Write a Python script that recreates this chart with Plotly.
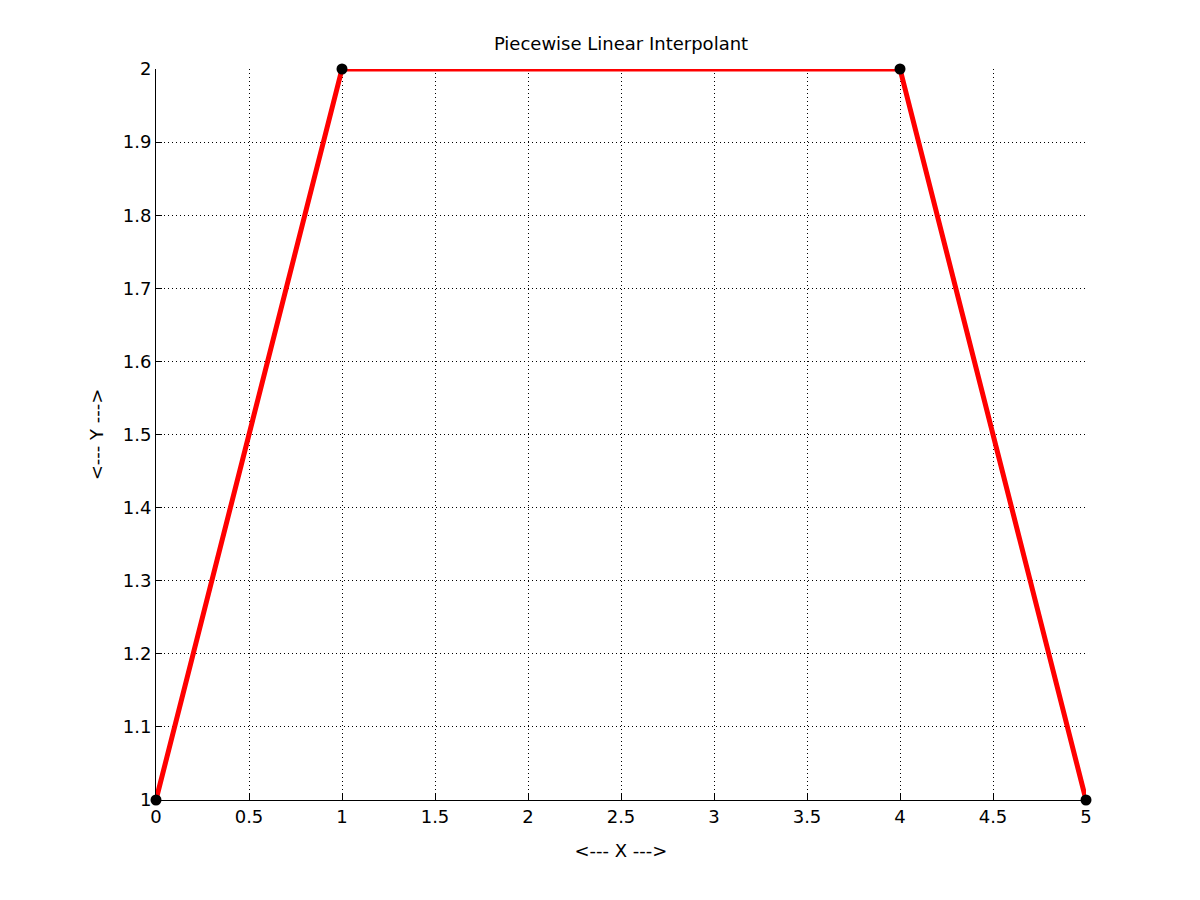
import plotly.graph_objects as go

x_nodes = [0, 1, 4, 5]
y_nodes = [1, 2, 2, 1]

font_family = "DejaVu Sans, Liberation Sans, Arial, sans-serif"
fs = 18

fig = go.Figure()
fig.add_trace(go.Scatter(x=x_nodes, y=y_nodes, mode="lines",
                         line=dict(color="#ff0000", width=5),
                         cliponaxis=False, showlegend=False))
fig.add_trace(go.Scatter(x=x_nodes, y=y_nodes, mode="markers",
                         marker=dict(color="black", size=11),
                         cliponaxis=False, showlegend=False))

axis_common = dict(
    showgrid=True, gridcolor="black", griddash="1px,3px", gridwidth=1,
    showline=True, linecolor="black", linewidth=1,
    ticks="inside", ticklen=6, tickcolor="black",
    tickfont=dict(family=font_family, size=fs, color="black"),
    zeroline=False, mirror=False,
)

fig.update_layout(
    width=1200, height=900,
    paper_bgcolor="white", plot_bgcolor="white",
    margin=dict(l=148, r=122, t=61, b=108),
    title=dict(text="Piecewise Linear Interpolant", x=(156 + 1086) / 2 / 1200 - 8 / 1200,
               xanchor="center",
               y=1 - 36 / 900, yanchor="middle",
               font=dict(family=font_family, size=fs, color="black")),
    xaxis=dict(range=[0, 5], tickmode="linear", tick0=0, dtick=0.5,
               title=dict(text="<--- X --->", standoff=18,
                          font=dict(family=font_family, size=fs, color="black")),
               **axis_common),
    yaxis=dict(range=[1, 2], tickmode="linear", tick0=1, dtick=0.1,
               title=dict(text="<--- Y --->", standoff=14,
                          font=dict(family=font_family, size=fs, color="black")),
               **axis_common),
)

fig.write_html("out.html")
